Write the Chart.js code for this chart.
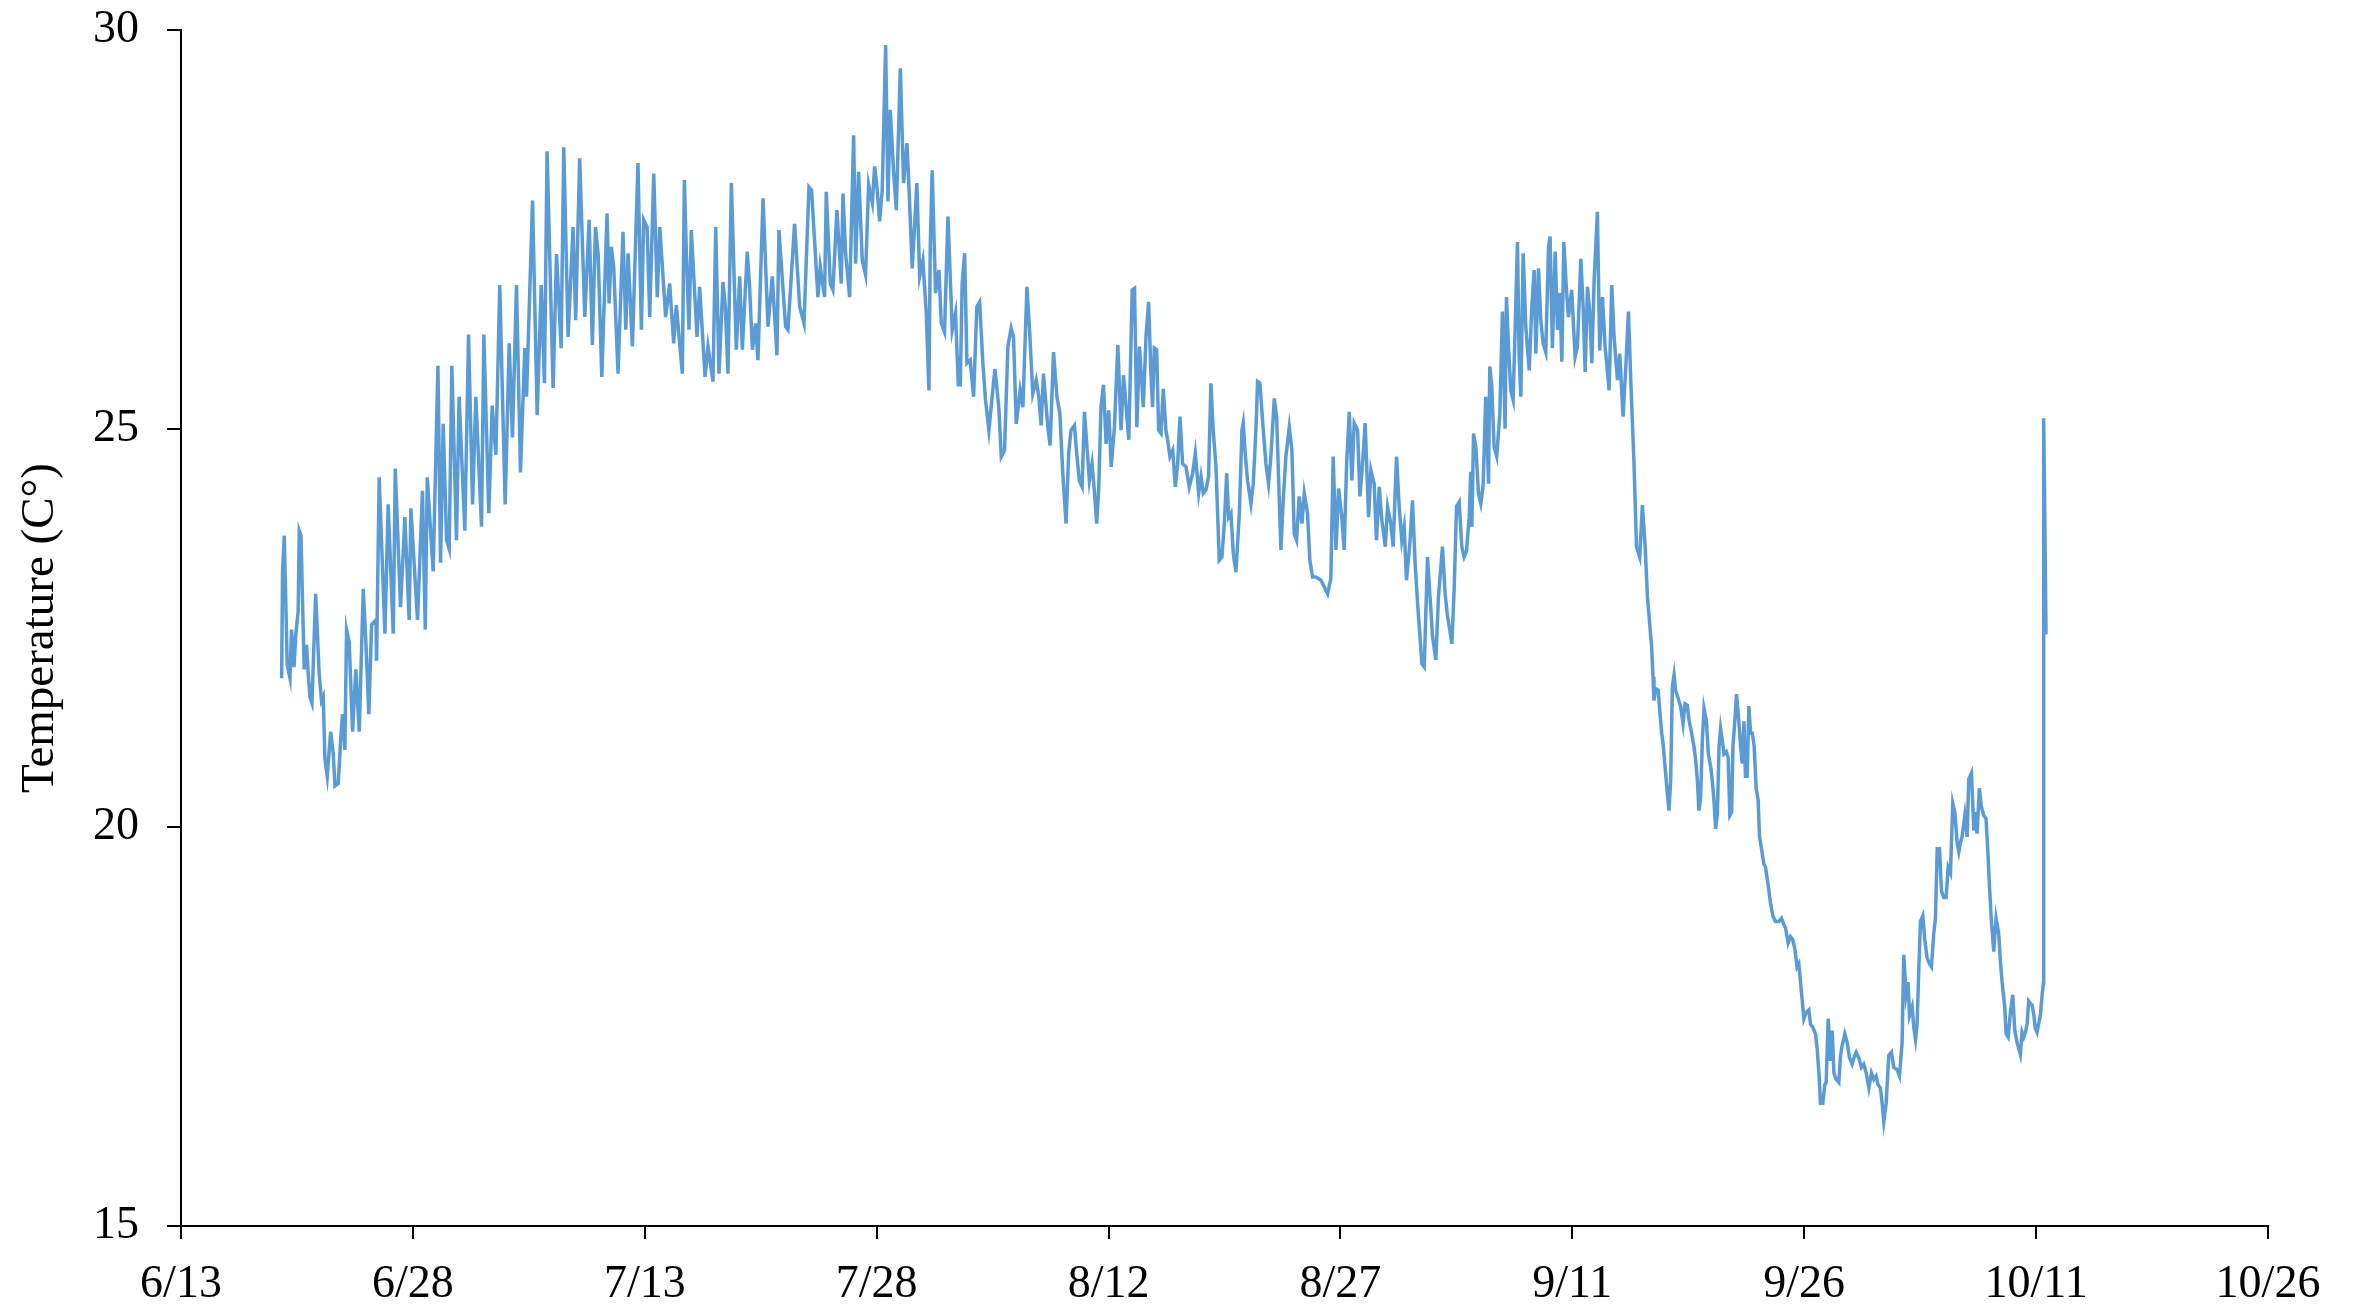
<!DOCTYPE html>
<html>
<head>
<meta charset="utf-8">
<title>Temperature</title>
<script src="https://cdn.jsdelivr.net/npm/chart.js@4.4.0/dist/chart.umd.min.js"></script>
<style>
  html, body { margin: 0; padding: 0; background: #fff; }
  #wrap { width: 2356px; height: 1305px; }
</style>
</head>
<body>
<div id="wrap"><canvas id="tempChart" width="2356" height="1305"></canvas></div>
<script>
// x values are days after 6/13
let days = [
  6.51, 6.57, 6.68, 6.87, 7.05, 7.15, 7.31, 7.43, 7.58, 7.65, 7.76, 7.97, 8.12, 8.23, 8.34, 8.47,
  8.71, 8.94, 9.09, 9.20, 9.31, 9.46, 9.68, 9.85, 9.96, 10.17, 10.34, 10.45, 10.60, 10.71, 10.88, 11.10,
  11.31, 11.53, 11.79, 11.96, 12.15, 12.33, 12.61, 12.65, 12.82, 13.19, 13.40, 13.73, 13.86, 14.20, 14.48, 14.76,
  14.87, 15.30, 15.62, 15.80, 15.93, 16.31, 16.62, 16.79, 16.96, 17.18, 17.35, 17.52, 17.82, 17.99, 18.36, 18.60,
  18.86, 19.07, 19.44, 19.59, 19.91, 20.13, 20.37, 20.62, 20.97, 21.23, 21.44, 21.70, 21.96, 22.24, 22.35, 22.74,
  23.04, 23.30, 23.51, 23.68, 24.07, 24.29, 24.59, 24.76, 25.04, 25.36, 25.53, 25.79, 26.12, 26.40, 26.61, 26.81,
  26.98, 27.22, 27.56, 27.69, 27.84, 27.99, 28.27, 28.59, 28.77, 28.92, 29.20, 29.56, 29.78, 29.93, 30.15, 30.32,
  30.58, 30.81, 30.97, 31.35, 31.61, 31.87, 32.04, 32.43, 32.56, 32.69, 32.86, 33.01, 33.38, 33.55, 33.90, 34.09,
  34.41, 34.59, 34.80, 35.06, 35.21, 35.38, 35.60, 35.92, 36.14, 36.31, 36.63, 36.78, 36.96, 37.17, 37.32, 37.65,
  37.97, 38.25, 38.55, 38.68, 39.11, 39.26, 39.69, 40.02, 40.30, 40.62, 40.79, 41.20, 41.35, 41.63, 41.74, 42.00,
  42.17, 42.43, 42.71, 42.82, 42.99, 43.25, 43.51, 43.64, 43.83, 44.07, 44.28, 44.48, 44.72, 44.87, 45.02, 45.19,
  45.36, 45.58, 45.73, 45.88, 46.09, 46.27, 46.53, 46.74, 46.96, 47.09, 47.30, 47.60, 47.78, 47.99, 48.21, 48.38,
  48.47, 48.59, 48.81, 49.03, 49.18, 49.39, 49.61, 49.89, 50.10, 50.28, 50.41, 50.53, 50.69, 50.84, 51.05, 51.27,
  51.48, 51.66, 51.87, 52.04, 52.26, 52.47, 52.65, 52.90, 53.06, 53.27, 53.49, 53.70, 53.85, 54.03, 54.28, 54.46,
  54.72, 54.89, 55.10, 55.32, 55.49, 55.64, 55.79, 56.07, 56.22, 56.44, 56.66, 56.85, 57.04, 57.25, 57.42, 57.57,
  57.79, 57.94, 58.11, 58.29, 58.44, 58.59, 58.76, 58.93, 59.08, 59.23, 59.36, 59.51, 59.67, 59.84, 60.01, 60.17,
  60.38, 60.60, 60.81, 60.97, 61.31, 61.53, 61.68, 61.83, 62.00, 62.25, 62.42, 62.59, 62.74, 62.85, 62.96, 63.11,
  63.24, 63.39, 63.54, 63.71, 63.82, 63.97, 64.15, 64.32, 64.47, 64.62, 64.79, 65.01, 65.22, 65.44, 65.61, 65.83,
  65.98, 66.13, 66.30, 66.47, 66.62, 66.77, 66.95, 67.16, 67.33, 67.49, 67.64, 67.77, 67.92, 68.07, 68.24, 68.46,
  68.63, 68.71, 68.84, 68.99, 69.21, 69.36, 69.53, 69.64, 69.79, 70.01, 70.18, 70.35, 70.50, 70.72, 70.87, 71.15,
  71.30, 71.47, 71.69, 71.86, 72.01, 72.16, 72.33, 72.51, 72.66, 72.87, 73.02, 73.20, 73.41, 73.74, 74.17, 74.38,
  74.53, 74.71, 74.88, 75.09, 75.24, 75.40, 75.57, 75.74, 75.89, 76.11, 76.26, 76.43, 76.60, 76.82, 76.97, 77.18,
  77.33, 77.51, 77.68, 77.90, 78.05, 78.26, 78.41, 78.63, 78.80, 78.97, 79.12, 79.27, 79.49, 79.66, 79.83, 79.99,
  80.27, 80.42, 80.63, 80.96, 81.17, 81.34, 81.60, 81.77, 81.93, 82.08, 82.21, 82.36, 82.51, 82.68, 82.85, 83.00,
  83.15, 83.33, 83.43, 83.50, 83.61, 83.76, 83.93, 84.08, 84.23, 84.40, 84.58, 84.66, 84.79, 84.94, 85.11, 85.31,
  85.48, 85.65, 85.74, 85.87, 86.02, 86.17, 86.30, 86.45, 86.56, 86.67, 86.82, 86.99, 87.21, 87.38, 87.53, 87.64,
  87.81, 87.96, 88.11, 88.28, 88.46, 88.56, 88.71, 88.89, 89.04, 89.19, 89.32, 89.45, 89.62, 89.75, 89.96, 90.18,
  90.33, 90.55, 90.70, 90.83, 90.98, 91.13, 91.26, 91.41, 91.62, 91.77, 91.95, 92.12, 92.38, 92.55, 92.70, 92.92,
  93.07, 93.28, 93.46, 93.63, 93.78, 93.99, 94.15, 94.36, 94.53, 94.71, 94.86, 95.13, 95.22, 95.28, 95.39, 95.56,
  95.65, 95.78, 95.87, 96.00, 96.15, 96.25, 96.36, 96.47, 96.58, 96.68, 96.86, 97.01, 97.16, 97.29, 97.44, 97.55,
  97.72, 97.87, 97.98, 98.09, 98.19, 98.30, 98.41, 98.52, 98.67, 98.80, 98.95, 99.05, 99.16, 99.27, 99.38, 99.49,
  99.59, 99.70, 99.81, 99.96, 100.08, 100.19, 100.30, 100.39, 100.51, 100.62, 100.77, 100.88, 100.99, 101.10, 101.20, 101.31,
  101.42, 101.53, 101.64, 101.76, 101.89, 102.02, 102.11, 102.24, 102.39, 102.50, 102.67, 102.82, 102.97, 103.14, 103.36, 103.53,
  103.68, 103.79, 103.96, 104.11, 104.26, 104.39, 104.54, 104.65, 104.76, 104.87, 104.98, 105.13, 105.30, 105.41, 105.56, 105.73,
  105.84, 105.95, 106.05, 106.20, 106.33, 106.42, 106.55, 106.70, 106.81, 106.92, 107.07, 107.24, 107.35, 107.45, 107.63, 107.78,
  107.93, 108.10, 108.27, 108.36, 108.53, 108.70, 108.85, 109.01, 109.18, 109.35, 109.50, 109.65, 109.78, 109.93, 110.04, 110.15,
  110.30, 110.47, 110.64, 110.79, 111.01, 111.16, 111.33, 111.44, 111.59, 111.72, 111.81, 111.98, 112.09, 112.20, 112.30, 112.41,
  112.52, 112.67, 112.80, 112.95, 113.10, 113.23, 113.38, 113.49, 113.60, 113.75, 113.88, 114.03, 114.18, 114.31, 114.46, 114.61,
  114.74, 114.89, 115.00, 115.11, 115.21, 115.39, 115.54, 115.64, 115.82, 115.97, 116.07, 116.18, 116.33, 116.46, 116.61, 116.76,
  116.89, 116.98, 117.11, 117.26, 117.41, 117.58, 117.69, 117.80, 117.97, 118.06, 118.19, 118.34, 118.49, 118.62, 118.77, 118.98,
  119.09, 119.20, 119.31, 119.42, 119.52, 119.63, 119.74, 119.85, 119.95, 120.06, 120.17, 120.28, 120.38, 120.47, 120.49, 120.56,
  120.64
];

let temps = [
  21.87, 23.21, 23.66, 22.04, 21.87, 22.48, 22.01, 22.43, 22.71, 23.72, 23.66, 21.98, 22.29, 21.92, 21.64, 21.56,
  22.93, 21.92, 21.59, 21.64, 20.86, 20.64, 21.20, 20.92, 20.52, 20.55, 21.14, 21.42, 20.97, 22.48, 22.32, 21.20,
  21.98, 21.20, 22.99, 22.32, 21.42, 22.54, 22.60, 22.09, 24.39, 22.43, 24.05, 22.43, 24.50, 22.76, 23.89, 22.60,
  24.00, 22.60, 24.22, 22.48, 24.39, 23.21, 25.79, 23.32, 25.06, 23.60, 23.49, 25.79, 23.60, 25.40, 23.72, 26.18,
  24.05, 25.40, 23.77, 26.18, 23.94, 25.29, 24.67, 26.80, 24.05, 26.07, 24.89, 26.80, 24.45, 26.01, 25.40, 27.86,
  25.17, 26.80, 25.57, 28.48, 25.51, 27.19, 26.01, 28.53, 26.15, 27.53, 26.36, 28.39, 26.40, 27.62, 26.05, 27.53,
  27.20, 25.65, 27.70, 26.57, 27.28, 27.03, 25.69, 27.47, 26.24, 27.20, 26.03, 28.33, 26.24, 27.62, 27.53, 26.40,
  28.20, 26.65, 27.53, 26.40, 26.82, 26.07, 26.55, 25.69, 28.12, 27.20, 26.24, 27.49, 26.15, 26.78, 25.65, 26.03,
  25.59, 27.53, 25.69, 26.84, 26.53, 25.69, 28.08, 25.99, 26.91, 25.99, 27.22, 26.78, 25.99, 26.32, 25.86, 27.89,
  26.28, 26.91, 25.92, 27.49, 26.28, 26.24, 27.57, 26.53, 26.32, 28.03, 27.99, 26.65, 27.03, 26.65, 27.97, 26.82,
  26.74, 27.74, 26.82, 27.95, 27.20, 26.65, 28.68, 27.07, 28.22, 27.11, 26.93, 28.06, 27.83, 28.29, 28.03, 27.60,
  27.99, 29.81, 27.85, 29.00, 28.24, 27.74, 29.52, 28.08, 28.58, 28.03, 27.01, 28.08, 26.91, 27.11, 26.45, 25.48,
  27.32, 28.24, 26.70, 26.99, 26.32, 26.21, 27.66, 26.24, 26.45, 25.55, 25.55, 26.82, 27.20, 25.82, 25.86, 25.40,
  26.53, 26.59, 25.82, 25.36, 24.98, 25.40, 25.75, 25.27, 24.65, 24.73, 26.03, 26.26, 26.15, 25.06, 25.48, 25.27,
  26.78, 26.24, 25.44, 25.61, 25.40, 25.04, 25.69, 25.02, 24.79, 25.96, 25.40, 25.19, 24.44, 23.81, 24.69, 24.98,
  25.04, 24.69, 24.35, 24.27, 25.21, 24.81, 24.35, 24.56, 24.23, 23.81, 24.23, 25.27, 25.55, 24.81, 25.23, 24.52,
  25.02, 26.05, 24.98, 25.67, 24.86, 26.74, 26.76, 25.02, 26.03, 25.27, 26.15, 26.59, 25.69, 25.27, 26.01, 25.99,
  24.98, 24.94, 25.50, 24.98, 24.86, 24.65, 24.73, 24.27, 24.56, 25.15, 24.56, 24.52, 24.27, 24.44, 24.69, 24.19,
  24.40, 24.19, 24.23, 24.40, 25.57, 24.98, 24.52, 23.35, 23.39, 23.81, 24.44, 23.89, 23.94, 23.43, 23.20, 23.94,
  24.98, 25.07, 24.69, 24.35, 24.06, 24.31, 24.98, 25.59, 25.57, 24.98, 24.56, 24.31, 24.65, 25.38, 25.15, 23.48,
  24.10, 24.65, 25.02, 24.73, 23.68, 23.60, 24.15, 23.81, 24.19, 23.94, 23.35, 23.14, 23.14, 23.10, 22.93, 23.12,
  24.65, 23.48, 24.25, 23.89, 23.48, 24.56, 25.21, 24.35, 25.07, 24.98, 24.15, 24.56, 25.07, 23.89, 24.48, 24.31,
  23.60, 24.27, 23.85, 23.52, 24.02, 23.81, 23.52, 24.65, 24.02, 23.60, 23.77, 23.10, 23.56, 24.10, 23.31, 22.81,
  22.05, 22.01, 23.39, 22.39, 22.10, 22.89, 23.52, 22.93, 22.64, 22.47, 22.30, 23.02, 24.02, 24.08, 23.52, 23.39,
  23.46, 23.89, 24.46, 23.77, 24.94, 24.77, 24.19, 24.06, 24.29, 25.40, 24.31, 25.78, 25.53, 24.77, 24.65, 25.19,
  26.47, 25.00, 26.65, 26.03, 25.48, 25.36, 26.24, 27.34, 25.90, 25.40, 27.20, 26.28, 25.73, 26.53, 26.99, 25.94,
  27.01, 26.36, 26.07, 25.96, 27.28, 27.41, 26.01, 27.22, 26.24, 26.70, 25.84, 27.34, 26.74, 26.40, 26.74, 25.90,
  26.03, 27.13, 26.53, 25.71, 26.78, 26.45, 25.82, 26.86, 27.72, 25.98, 26.65, 26.03, 25.48, 26.80, 26.15, 25.61,
  25.94, 25.15, 25.78, 26.47, 25.61, 24.56, 23.52, 23.39, 24.04, 23.52, 22.89, 22.26, 21.89, 21.59, 21.74, 21.72,
  21.47, 21.18, 21.05, 20.76, 20.42, 20.21, 20.59, 21.76, 21.91, 21.72, 21.61, 21.51, 21.30, 21.55, 21.53, 21.34,
  21.18, 21.01, 20.84, 20.59, 20.21, 20.38, 21.09, 21.49, 21.34, 20.92, 20.76, 20.59, 20.34, 19.98, 20.17, 21.01,
  21.24, 21.09, 20.92, 20.95, 20.87, 20.15, 20.19, 21.02, 21.33, 21.67, 21.33, 21.02, 20.80, 21.33, 20.64, 20.64,
  21.52, 21.18, 21.18, 21.02, 20.49, 20.34, 19.88, 19.73, 19.54, 19.50, 19.27, 19.05, 18.89, 18.82, 18.82, 18.86,
  18.78, 18.74, 18.55, 18.63, 18.59, 18.48, 18.25, 18.29, 18.06, 17.83, 17.60, 17.68, 17.71, 17.53, 17.49, 17.41,
  17.22, 16.92, 16.54, 16.54, 16.77, 16.80, 17.60, 17.07, 17.45, 16.92, 16.84, 16.80, 17.14, 17.26, 17.41, 17.30,
  17.11, 17.03, 17.14, 17.18, 17.11, 16.99, 17.03, 16.92, 16.73, 16.92, 16.84, 16.88, 16.77, 16.73, 16.54, 16.31,
  16.54, 17.14, 17.18, 16.99, 16.96, 16.88, 17.30, 18.40, 17.90, 18.06, 17.64, 17.75, 17.49, 17.34, 17.53, 18.21,
  18.82, 18.89, 18.59, 18.36, 18.29, 18.25, 18.67, 18.86, 19.73, 19.73, 19.20, 19.12, 19.12, 19.50, 19.43, 20.30,
  20.19, 19.81, 19.69, 19.81, 19.88, 20.15, 19.88, 20.60, 20.68, 19.96, 20.19, 19.92, 20.49, 20.26, 20.15, 20.11,
  19.65, 19.27, 18.82, 18.44, 18.86, 18.67, 18.32, 18.06, 17.75, 17.41, 17.37, 17.68, 17.90, 17.45, 17.30, 17.15,
  17.43, 17.37, 17.43, 17.54, 17.82, 17.79, 17.77, 17.65, 17.48, 17.43, 17.54, 17.65, 17.88, 18.05, 25.13, 23.93,
  22.42
];

let xTickLabels = ['6/13', '6/28', '7/13', '7/28', '8/12', '8/27', '9/11', '9/26', '10/11', '10/26'];
let yTicks = [15, 20, 25, 30];

let points = days.map((d, i) => ({ x: d, y: temps[i] }));

let serif = "'Liberation Serif', 'Times New Roman', serif";

let ctx = document.getElementById('tempChart').getContext('2d');
let tempChart = new Chart(ctx, {
    type: 'line',
    data: {
        datasets: [{
            label: 'Temperature',
            data: points,
            borderColor: '#5B9BD5',
            borderWidth: 3.5,
            pointRadius: 0,
            tension: 0,
            fill: false
        }]
    },
    options: {
        responsive: false,
        animation: false,
        layout: {
            padding: { top: 30, right: 88, left: 0, bottom: 0 }
        },
        plugins: {
            legend: { display: false },
            tooltip: { enabled: false }
        },
        scales: {
            x: {
                type: 'linear',
                min: 0,
                max: 135,
                afterFit: (scale) => {
                    scale.height = 79;
                    scale.paddingLeft = 0;
                    scale.paddingRight = 0;
                },
                afterBuildTicks: (scale) => {
                    scale.ticks = xTickLabels.map((t, i) => ({ value: i * 15 }));
                },
                ticks: {
                    color: '#000',
                    font: { family: serif, size: 46 },
                    padding: 18,
                    maxRotation: 0,
                    autoSkip: false,
                    callback: (v, i) => xTickLabels[i]
                },
                grid: {
                    drawOnChartArea: false,
                    drawTicks: true,
                    tickLength: 13,
                    color: '#000',
                    lineWidth: 2
                },
                border: { color: '#000', width: 2 }
            },
            y: {
                min: 15,
                max: 30,
                afterFit: (scale) => {
                    scale.width = 181;
                    scale.paddingTop = 0;
                    scale.paddingBottom = 0;
                },
                afterBuildTicks: (scale) => {
                    scale.ticks = yTicks.map(v => ({ value: v }));
                },
                ticks: {
                    color: '#000',
                    font: { family: serif, size: 46 },
                    padding: 28
                },
                grid: {
                    drawOnChartArea: false,
                    drawTicks: true,
                    tickLength: 14,
                    color: '#000',
                    lineWidth: 2
                },
                border: { color: '#000', width: 2 },
                title: {
                    display: true,
                    text: 'Temperature (C°)',
                    color: '#000',
                    font: { family: serif, size: 47 },
                    padding: { top: 12, bottom: 0 }
                }
            }
        }
    }
});
</script>
</body>
</html>
